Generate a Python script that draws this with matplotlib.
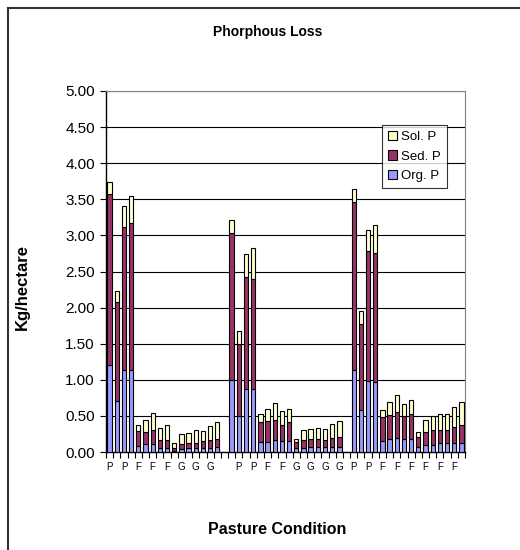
import numpy as np
import matplotlib.pyplot as plt
from matplotlib.lines import Line2D

plt.rcParams['font.family'] = ['Liberation Sans', 'DejaVu Sans']

nan = np.nan

# pasture condition of each plot, blank slots separate the three sites
condition = (['P'] * 4 + ['F'] * 5 + ['G'] * 7 + [''] +
             ['P'] * 4 + ['F'] * 5 + ['G'] * 7 + [''] +
             ['P'] * 4 + ['F'] * 12)

# phosphorus loss components, kg/hectare
org_p = [1.21, 0.70, 1.13, 1.14, 0.09, 0.11, 0.11, 0.05, 0.05, 0.02, 0.04, 0.05, 0.05, 0.05, 0.06, 0.07, nan,
         1.00, 0.50, 0.87, 0.87, 0.14, 0.14, 0.17, 0.15, 0.15, 0.05, 0.06, 0.07, 0.07, 0.07, 0.07, 0.07, nan,
         1.14, 0.58, 0.99, 0.97, 0.15, 0.18, 0.20, 0.18, 0.18, 0.07, 0.10, 0.10, 0.12, 0.12, 0.12, 0.13]
sed_p = [2.37, 1.38, 1.99, 2.03, 0.20, 0.17, 0.20, 0.12, 0.12, 0.03, 0.07, 0.07, 0.08, 0.10, 0.11, 0.11, nan,
         2.04, 0.99, 1.56, 1.53, 0.27, 0.29, 0.28, 0.23, 0.27, 0.09, 0.10, 0.11, 0.11, 0.10, 0.12, 0.14, nan,
         2.32, 1.19, 1.79, 1.78, 0.33, 0.33, 0.36, 0.32, 0.34, 0.14, 0.18, 0.20, 0.19, 0.19, 0.22, 0.25]
sol_p = [0.16, 0.15, 0.29, 0.38, 0.09, 0.17, 0.23, 0.16, 0.20, 0.07, 0.14, 0.15, 0.17, 0.14, 0.19, 0.23, nan,
         0.18, 0.18, 0.31, 0.42, 0.11, 0.17, 0.23, 0.19, 0.18, 0.04, 0.14, 0.14, 0.15, 0.15, 0.20, 0.22, nan,
         0.18, 0.18, 0.30, 0.40, 0.10, 0.18, 0.23, 0.16, 0.20, 0.07, 0.16, 0.20, 0.22, 0.22, 0.28, 0.31]

org = np.array(org_p)
sed = np.array(sed_p)
sol = np.array(sol_p)
x = np.arange(len(condition))

fig = plt.figure(figsize=(5.2, 5.5), dpi=100)
ax = fig.add_axes([106 / 520, 98 / 550, 359 / 520, 361 / 550])

w = 0.6
kw = dict(width=w, edgecolor='black', linewidth=0.8, zorder=3)
b1 = ax.bar(x, org, color='#9999FF', label='Org. P', **kw)
b2 = ax.bar(x, sed, bottom=org, color='#993366', label='Sed. P', **kw)
b3 = ax.bar(x, sol, bottom=org + sed, color='#FFFFCC', label='Sol. P', **kw)

ax.set_xlim(-0.5, len(condition) - 0.5)
ax.set_ylim(0, 5)
ax.set_yticks(np.arange(0, 5.01, 0.5))
ax.set_yticklabels(['%.2f' % v for v in np.arange(0, 5.01, 0.5)], fontsize=11)
ax.yaxis.grid(True, color='black', linewidth=0.8, zorder=0)
ax.set_axisbelow(True)

ax.set_xticks(x[::2])
ax.set_xticklabels(condition[::2], fontsize=7)
ax.set_xticks(np.arange(-0.5, len(condition)), minor=True)
ax.tick_params(axis='x', which='major', length=0, pad=7)
ax.tick_params(axis='x', which='minor', length=4, width=0.8, direction='out')
ax.tick_params(axis='y', length=4, width=0.8, pad=4)

ax.spines['top'].set_color('#808080')
ax.spines['right'].set_color('#808080')
for s in ['left', 'bottom']:
    ax.spines[s].set_color('black')
    ax.spines[s].set_linewidth(1.0)

leg = ax.legend(handles=[b3, b2, b1], loc='upper left', bbox_to_anchor=(0.769, 0.906),
                borderaxespad=0, fontsize=9.5, frameon=True, fancybox=False,
                edgecolor='black', handlelength=0.7, handleheight=0.7,
                handletextpad=0.3, labelspacing=0.55, borderpad=0.45)
leg.get_frame().set_linewidth(0.8)

fig.text(268 / 520, 1 - 32 / 550, 'Phorphous Loss', ha='center', va='center',
         fontsize=10, fontweight='bold')
fig.text(277 / 520, 1 - 530 / 550, 'Pasture Condition', ha='center', va='center',
         fontsize=11.5, fontweight='bold')
fig.text(22 / 520, 1 - 287 / 550, 'Kg/hectare', ha='center', va='center',
         rotation=90, fontsize=12, fontweight='bold')

# outer chart frame
fig.add_artist(Line2D([8 / 520, 8 / 520], [0, 1 - 8 / 550], color='#333333', linewidth=1.5))
fig.add_artist(Line2D([8 / 520, 1], [1 - 8 / 550, 1 - 8 / 550], color='#333333', linewidth=1.5))

fig.savefig('out.png', dpi=100)
